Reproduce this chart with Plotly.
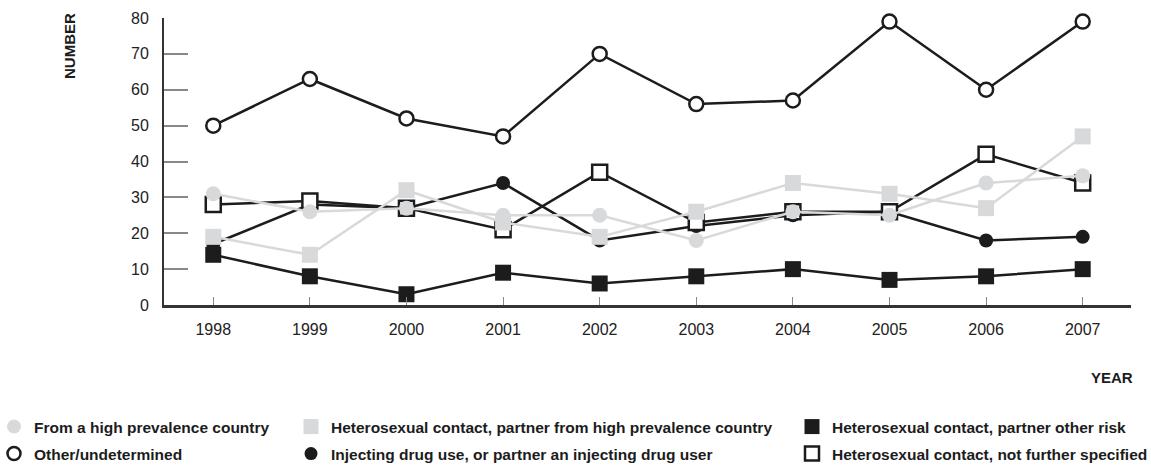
import plotly.graph_objects as go

years = [1998, 1999, 2000, 2001, 2002, 2003, 2004, 2005, 2006, 2007]

high_prev_country = [31, 26, 27, 25, 25, 18, 26, 25, 34, 36]
het_partner_high_prev = [19, 14, 32, 23, 19, 26, 34, 31, 27, 47]
het_partner_other = [14, 8, 3, 9, 6, 8, 10, 7, 8, 10]
other_undetermined = [50, 63, 52, 47, 70, 56, 57, 79, 60, 79]
injecting_drug = [17, 28, 27, 34, 18, 22, 25, 26, 18, 19]
het_not_specified = [28, 29, 27, 21, 37, 23, 26, 26, 42, 34]

BLACK = "#1c1c1c"
GREY = "#d8d9db"
FONT = "Liberation Sans, Arial, sans-serif"

# name, values, symbol, fill, line colour, size, legend slot
series = [
    ("Heterosexual contact, partner other risk", het_partner_other, "square", BLACK, BLACK, 16, "legend3"),
    ("Injecting drug use, or partner an injecting drug user", injecting_drug, "circle", BLACK, BLACK, 14, "legend5"),
    ("Heterosexual contact, not further specified", het_not_specified, "square", "white", BLACK, 15, "legend6"),
    ("Other/undetermined", other_undetermined, "circle", "white", BLACK, 14, "legend4"),
    ("Heterosexual contact, partner from high prevalence country", het_partner_high_prev, "square", GREY, GREY, 16, "legend2"),
    ("From a high prevalence country", high_prev_country, "circle", GREY, GREY, 15, "legend"),
]

fig = go.Figure()
for name, vals, sym, fill, col, size, leg in series:
    outline = 2.5 if fill == "white" else 0
    fig.add_trace(go.Scatter(
        x=years, y=vals, mode="lines+markers", name=name, showlegend=False,
        line=dict(color=col, width=2.5), cliponaxis=False,
        marker=dict(symbol=sym, size=size, color=fill, line=dict(color=BLACK, width=outline)),
    ))
    # marker-only entry for the legend
    fig.add_trace(go.Scatter(
        x=[None], y=[None], mode="markers", name=name, legend=leg,
        marker=dict(symbol=sym, size=size - 1, color=fill, line=dict(color=BLACK, width=outline)),
    ))

# plot area: x 164..1131, y 18..305
def px_x(p):
    return (p - 164) / 967

def px_y(p):
    return (305 - p) / 287

leg_font = dict(family=FONT, size=15.5, color=BLACK, weight="bold")
legend_pos = {
    "legend": (-6, 427), "legend2": (291, 427), "legend3": (792, 427),
    "legend4": (-6, 454), "legend5": (291, 454), "legend6": (792, 454),
}
legends = {}
for key, (lx, ly) in legend_pos.items():
    legends[key] = dict(x=px_x(lx), y=px_y(ly), xanchor="left", yanchor="middle",
                        font=leg_font, bgcolor="rgba(0,0,0,0)", borderwidth=0)

fig.update_layout(
    width=1151, height=468,
    margin=dict(l=164, r=20, t=18, b=163, autoexpand=False),
    paper_bgcolor="white", plot_bgcolor="white",
    font=dict(family=FONT, color="#222"),
    **legends,
    xaxis=dict(
        range=[1997.49, 2007.5], tickvals=years, showgrid=False, zeroline=False,
        showline=True, linecolor="#333", linewidth=2.5,
        ticks="inside", ticklen=8, tickcolor="#888", tickwidth=1,
        tickfont=dict(family=FONT, size=16, color="#222"), ticklabelstandoff=8,
    ),
    yaxis=dict(
        range=[0, 80], dtick=10, showgrid=False, zeroline=False,
        showline=True, linecolor="#333", linewidth=2,
        ticks="inside", ticklen=24, tickcolor="#888", tickwidth=1.5,
        tickfont=dict(family=FONT, size=16, color="#222"), ticklabelstandoff=10,
    ),
    annotations=[
        dict(text="<b>NUMBER</b>", textangle=-90, x=px_x(70), y=px_y(46),
             xref="paper", yref="paper", xanchor="center", yanchor="middle",
             showarrow=False, font=dict(family=FONT, size=15, color=BLACK)),
        dict(text="<b>YEAR</b>", x=px_x(1112), y=px_y(377),
             xref="paper", yref="paper", xanchor="center", yanchor="middle",
             showarrow=False, font=dict(family=FONT, size=15, color=BLACK)),
    ],
)

# drop the default page margin so the figure sits at the window's corner
fig.write_html("out.html", config={"displayModeBar": False},
               post_script="document.body.style.margin='0';")
